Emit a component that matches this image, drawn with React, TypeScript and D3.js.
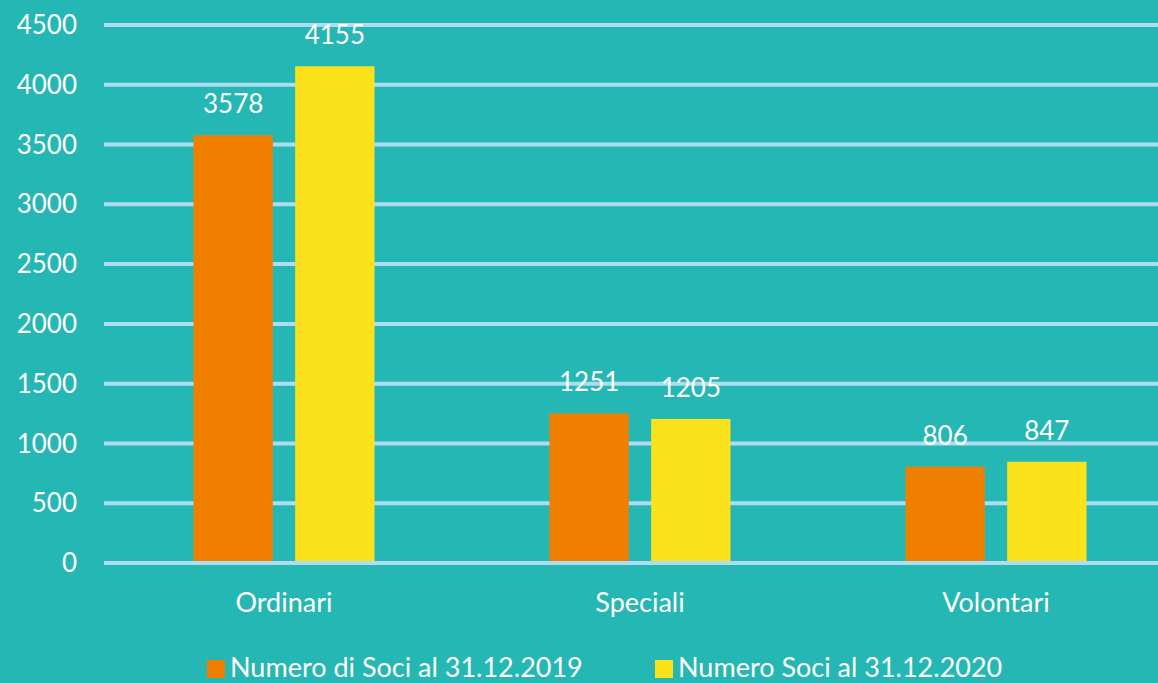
import * as d3 from "d3";

const categories = ["Ordinari", "Speciali", "Volontari"];
const seriesNames = ["Numero di Soci al 31.12.2019", "Numero Soci al 31.12.2020"];
const values2019 = [3578, 1251, 806];
const values2020 = [4155, 1205, 847];
const yTicks = [0, 500, 1000, 1500, 2000, 2500, 3000, 3500, 4000, 4500];

const colors = ["#F07F00", "#FCE21A"];
const font = "Lato, 'Open Sans', sans-serif";

export default function App() {
  const width = 1158;
  const height = 683;
  const marginLeft = 106;
  const plotRight = 1174;
  const yTop = 25;
  const yBottom = 563;

  const x = d3.scaleBand().domain(categories).range([marginLeft, plotRight]).paddingInner(0).paddingOuter(0);
  const inner = d3.scaleBand().domain(seriesNames).range([0, 181]).paddingInner(0.22);
  const y = d3.scaleLinear().domain([0, 4500]).range([yBottom, yTop]);

  const series = [values2019, values2020];
  const offset = (x.bandwidth() - 181) / 2;

  return (
    <svg
      width={width}
      height={height}
      style={{ position: "absolute", left: 0, top: 0, display: "block" }}
      fontFamily={font}
    >
      <rect x={0} y={0} width={width} height={height} fill="#25B7B4" />
      {yTicks.map((t) => (
        <g key={t}>
          <line x1={marginLeft - 2} x2={width} y1={y(t)} y2={y(t)} stroke="#AEDCF1" strokeWidth={4} />
          <text x={77} y={y(t)} dy="0.35em" textAnchor="end" fill="white" fontSize={26}>
            {t}
          </text>
        </g>
      ))}
      {series.map((vals, si) =>
        categories.map((c, ci) => {
          const bx = (x(c) as number) + offset + (inner(seriesNames[si]) as number);
          return (
            <g key={`${si}-${ci}`}>
              <rect
                x={bx}
                y={y(vals[ci])}
                width={inner.bandwidth()}
                height={y(0) - y(vals[ci]) - 2}
                fill={colors[si]}
              />
              <text
                x={bx + inner.bandwidth() / 2}
                y={y(vals[ci]) - 22}
                textAnchor="middle"
                fill="white"
                fontSize={26}
              >
                {vals[ci]}
              </text>
            </g>
          );
        })
      )}
      {categories.map((c) => (
        <text
          key={c}
          x={(x(c) as number) + x.bandwidth() / 2}
          y={612}
          textAnchor="middle"
          fill="white"
          fontSize={27}
        >
          {c}
        </text>
      ))}
      {seriesNames.map((s, i) => {
        const lx = i === 0 ? 207 : 655;
        return (
          <g key={s}>
            <rect x={lx} y={660} width={18} height={18} fill={colors[i]} />
            <text x={lx + 23} y={677} fill="white" fontSize={27}>
              {s}
            </text>
          </g>
        );
      })}
    </svg>
  );
}
